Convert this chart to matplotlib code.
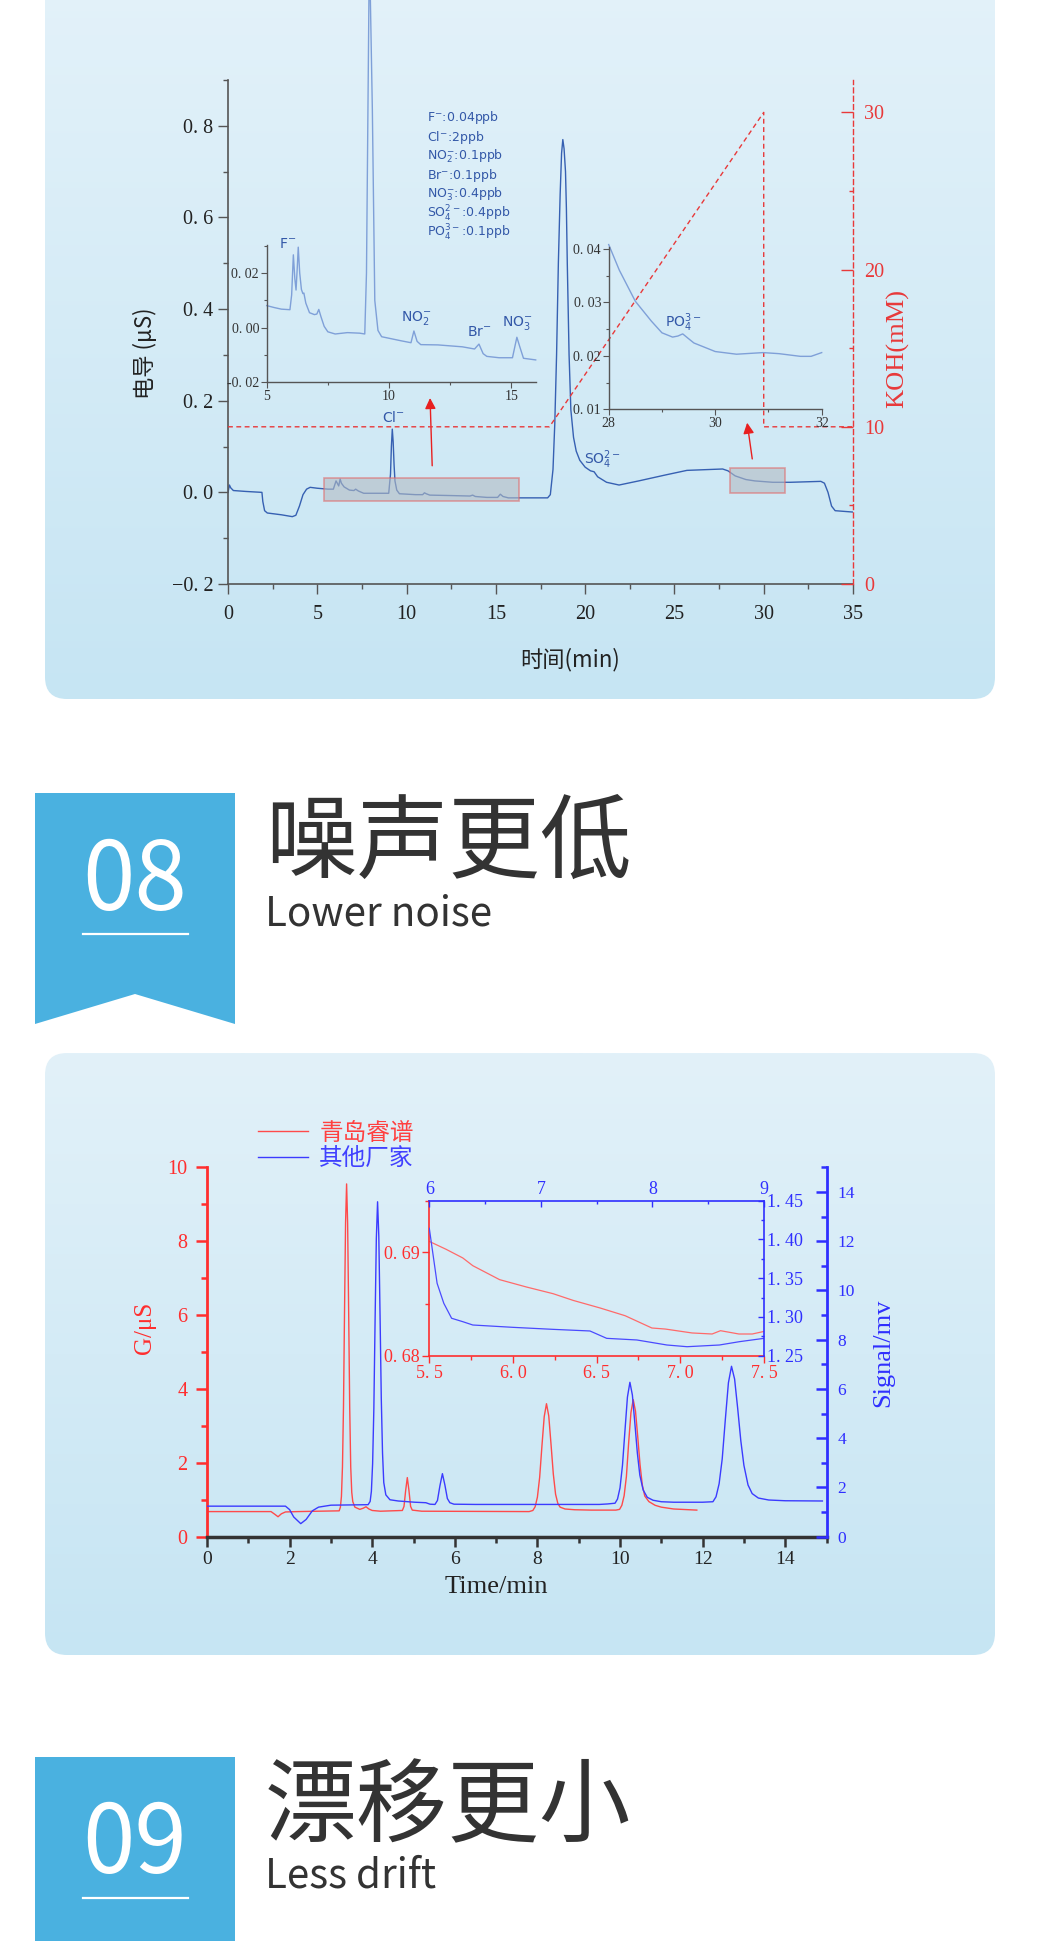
import numpy as np
import matplotlib
matplotlib.use("Agg")
import matplotlib.pyplot as plt
from matplotlib.patches import FancyBboxPatch, Polygon, Rectangle
from matplotlib.colors import LinearSegmentedColormap
from matplotlib.ticker import MultipleLocator, FuncFormatter

W, H = 1040, 1941

# ---------------- data: top chromatogram (uS vs min) ----------------
main_time = [0, 0.08, 0.15, 0.3, 1.0, 1.9, 1.95, 2.05, 2.2, 3.0, 3.6, 3.8, 4.0, 4.2, 4.4, 4.6,
             5.0, 5.6, 5.9, 6.05, 6.12, 6.2, 6.28, 6.35, 6.5, 6.8, 7.05, 7.15, 7.3, 7.6, 8.5,
             9.0, 9.1, 9.15, 9.2, 9.25, 9.3, 9.35, 9.45, 9.6, 10.5, 10.9, 11.0, 11.1, 11.3,
             12.5, 13.55, 13.7, 13.85, 14.5, 15.1, 15.25, 15.4, 15.7, 17.0, 17.9, 18.05, 18.2,
             18.3, 18.4, 18.5, 18.6, 18.68, 18.75, 18.82, 18.9, 18.95, 19.0, 19.1, 19.2,
             19.35, 19.5, 19.7, 20.0, 20.3, 20.5, 20.7, 21.2, 21.9, 23.0, 24.5, 25.7, 27.7,
             28.0, 28.4, 29.0, 29.5, 30.5, 31.5, 33.2, 33.4, 33.6, 33.8, 34.0, 35.0]
main_cond = [0.0, 0.016, 0.01, 0.004, 0.002, 0.0, -0.02, -0.04, -0.045, -0.049, -0.053, -0.05,
             -0.03, -0.005, 0.007, 0.011, 0.009, 0.007, 0.007, 0.025, 0.02, 0.014, 0.029, 0.02,
             0.012, 0.005, 0.004, 0.007, 0.003, -0.002, -0.002, -0.002, 0.04, 0.1, 0.138,
             0.11, 0.06, 0.025, 0.005, -0.003, -0.005, -0.005, -0.001, -0.003, -0.006, -0.007,
             -0.008, -0.006, -0.009, -0.011, -0.011, -0.004, -0.009, -0.012, -0.012, -0.012,
             -0.005, 0.05, 0.15, 0.3, 0.5, 0.65, 0.74, 0.77, 0.75, 0.70, 0.62, 0.5, 0.3, 0.18,
             0.12, 0.09, 0.07, 0.055, 0.047, 0.045, 0.034, 0.022, 0.016, 0.025, 0.038, 0.048,
             0.051, 0.047, 0.036, 0.028, 0.025, 0.022, 0.022, 0.024, 0.02, 0.0, -0.03, -0.04,
             -0.043]

zoom1_time = [5.0, 5.3, 5.6, 5.95, 6.02, 6.09, 6.15, 6.2, 6.25, 6.29, 6.35, 6.42, 6.48, 6.52,
              6.6, 6.75, 6.95, 7.05, 7.13, 7.22, 7.35, 7.5, 7.8, 8.3, 8.8, 9.01, 9.08, 9.2,
              9.32, 9.42, 9.55, 9.7, 10.5, 10.9, 11.02, 11.15, 11.3, 12.0, 13.0, 13.5, 13.68,
              13.85, 14.0, 14.5, 15.05, 15.23, 15.35, 15.5, 16.0]
zoom1_cond = [0.0081, 0.0074, 0.0068, 0.0066, 0.012, 0.0267, 0.018, 0.0138, 0.022, 0.0295,
              0.02, 0.014, 0.0125, 0.0127, 0.009, 0.0055, 0.0048, 0.005, 0.0067, 0.004, 0.0005,
              -0.0015, -0.0023, -0.0018, -0.002, -0.0023, 0.02, 0.14, 0.08, 0.01, -0.001,
              -0.0033, -0.0048, -0.0055, -0.0012, -0.005, -0.0062, -0.0063, -0.007, -0.0078,
              -0.006, -0.0095, -0.0105, -0.011, -0.011, -0.0035, -0.007, -0.0112, -0.0118]

zoom2_time = [28.0, 28.2, 28.5, 28.8, 29.0, 29.2, 29.3, 29.39, 29.5, 29.6, 29.8, 30.0, 30.4,
              30.9, 31.2, 31.6, 31.8, 32.0]
zoom2_cond = [0.0408, 0.036, 0.0302, 0.0265, 0.0243, 0.0235, 0.0237, 0.0241, 0.0232, 0.0224,
              0.0216, 0.0208, 0.0203, 0.0206, 0.0204, 0.0199, 0.0199, 0.0206]

koh_time = [0, 18, 30, 30, 35]
koh_conc = [10, 10, 30, 10, 10]

ion_list = [r"F$^{-}$:0.04ppb", r"Cl$^{-}$:2ppb", r"NO$_2^{-}$:0.1ppb", r"Br$^{-}$:0.1ppb",
            r"NO$_3^{-}$:0.4ppb", r"SO$_4^{2-}$:0.4ppb", r"PO$_4^{3-}$:0.1ppb"]

# ---------------- data: bottom chromatogram ----------------
ruipu_time = [0, 1.55, 1.65, 1.72, 1.8, 1.9, 2.2, 3.2, 3.23, 3.255, 3.28, 3.305, 3.33, 3.355,
              3.38, 3.405, 3.43, 3.455, 3.48, 3.505, 3.53, 3.58, 3.7, 3.78, 3.85, 3.92, 4.0,
              4.2, 4.73, 4.77, 4.81, 4.85, 4.89, 4.93, 4.97, 5.2, 7.8, 7.89, 7.945, 8.0, 8.055,
              8.11, 8.165, 8.22, 8.275, 8.33, 8.385, 8.44, 8.495, 8.55, 8.67, 8.9, 9.3, 9.9,
              9.99, 10.045, 10.1, 10.155, 10.21, 10.265, 10.32, 10.375, 10.43, 10.485, 10.54,
              10.6, 10.7, 10.85, 11.0, 11.3, 11.86]
ruipu_sig = [0.68, 0.68, 0.6, 0.54, 0.62, 0.67, 0.68, 0.7, 0.8, 1.09, 1.89, 3.53, 6.1, 8.49,
             9.55, 8.49, 6.1, 3.53, 1.89, 1.2, 0.95, 0.8, 0.74, 0.77, 0.81, 0.75, 0.71, 0.69,
             0.71, 0.82, 1.25, 1.6, 1.25, 0.82, 0.72, 0.69, 0.68, 0.71, 0.81, 1.07, 1.61,
             2.46, 3.25, 3.6, 3.27, 2.5, 1.7, 1.15, 0.9, 0.8, 0.75, 0.73, 0.72, 0.72, 0.74,
             0.85, 1.11, 1.63, 2.55, 3.36, 3.71, 3.4, 2.7, 1.95, 1.4, 1.1, 0.95, 0.85, 0.8,
             0.75, 0.72]

other_time = [0, 1.9, 2.0, 2.1, 2.27, 2.4, 2.55, 2.7, 3.0, 3.9, 3.95, 3.98, 4.01, 4.04, 4.07,
              4.10, 4.13, 4.16, 4.19, 4.22, 4.25, 4.28, 4.33, 4.43, 4.63, 5.03, 5.3, 5.4,
              5.52, 5.58, 5.64, 5.7, 5.76, 5.82, 5.88, 5.98, 6.5, 9.5, 9.7, 9.88, 9.94, 10.0,
              10.06, 10.12, 10.18, 10.24, 10.30, 10.36, 10.42, 10.48, 10.56, 10.66, 10.8,
              11.0, 11.3, 12.0, 12.25, 12.325, 12.4, 12.475, 12.55, 12.625, 12.7, 12.775,
              12.85, 12.925, 13.0, 13.1, 13.2, 13.35, 13.6, 14.0, 14.9]
other_sig = [1.24, 1.24, 1.1, 0.8, 0.53, 0.7, 1.05, 1.2, 1.28, 1.3, 1.43, 1.84, 2.96, 5.2,
             8.8, 12.1, 13.6, 12.2, 9.0, 5.6, 3.4, 2.2, 1.7, 1.5, 1.45, 1.4, 1.38, 1.32, 1.31,
             1.47, 2.07, 2.56, 2.1, 1.55, 1.38, 1.32, 1.31, 1.31, 1.33, 1.36, 1.53, 1.98, 2.9,
             4.3, 5.67, 6.27, 5.75, 4.6, 3.4, 2.5, 1.9, 1.6, 1.48, 1.42, 1.4, 1.4, 1.42, 1.62,
             2.15, 3.16, 4.75, 6.25, 6.92, 6.4, 5.2, 3.9, 2.9, 2.1, 1.75, 1.57, 1.49, 1.46,
             1.45]

ruipu_zoom_time = [5.5, 5.6, 5.7, 5.76, 5.92, 6.08, 6.24, 6.36, 6.52, 6.67, 6.83, 6.91, 7.07,
                   7.19, 7.24, 7.35, 7.43, 7.5]
ruipu_zoom_sig = [0.69106, 0.6903, 0.68946, 0.68871, 0.68736, 0.68665, 0.686, 0.68535, 0.68462,
                  0.68387, 0.68268, 0.68258, 0.6822, 0.6821, 0.68242, 0.6821, 0.6821, 0.68235]
other_zoom_time = [6.0, 6.07, 6.13, 6.2, 6.3, 6.39, 6.75, 7.11, 7.44, 7.59, 7.86, 8.13, 8.31,
                   8.6, 8.78, 9.0]
other_zoom_sig = [1.4144, 1.3434, 1.3176, 1.2983, 1.2939, 1.2896, 1.2866, 1.284, 1.2819, 1.2724,
                  1.2703, 1.2638, 1.2616, 1.2638, 1.2681, 1.2724]

legend_names = ["青岛睿谱", "其他厂家"]

# ---------------- styling ----------------
plt.rcParams['mathtext.fontset'] = 'dejavusans'
plt.rcParams['font.family'] = ['Liberation Serif', 'DejaVu Serif']
CJK = ['Noto Sans CJK SC', 'DejaVu Sans']
SANS = ['DejaVu Sans']
RED = '#ff2e2e'
BLUE = '#2f2fff'
DRED = '#e8393a'
TRACE = '#3660b2'
LTRACE = '#7fa0d8'
GRAY = '#555555'

fig = plt.figure(figsize=(W / 100, H / 100), dpi=100)
fig.patch.set_facecolor('white')

bg = fig.add_axes([0, 0, 1, 1], zorder=-10)
bg.axis('off')


def panel(y0, y1, c_top, c_bot):
    box = FancyBboxPatch((45, y0), 950, y1 - y0,
                         boxstyle="round,pad=0,rounding_size=22", fc='none', ec='none')
    bg.add_patch(box)
    cmap = LinearSegmentedColormap.from_list('g', [c_top, c_bot])
    grad = np.linspace(0, 1, 256).reshape(-1, 1)
    im = bg.imshow(grad, cmap=cmap, extent=(45, 995, y1, y0), aspect='auto',
                   origin='upper', zorder=0)
    im.set_clip_path(box)


panel(-40, 699, '#e4f2fa', '#c6e5f3')
panel(1053, 1655, '#e2f1f9', '#c6e5f3')

# ribbons
bg.add_patch(Polygon([(35, 793), (235, 793), (235, 1024), (135, 994), (35, 1024)],
                     closed=True, fc='#4ab1e0', ec='none'))
bg.add_patch(Polygon([(35, 1757), (235, 1757), (235, 1960), (35, 1960)],
                     closed=True, fc='#4ab1e0', ec='none'))
bg.plot([83, 188], [934, 934], color='white', lw=1.6)
bg.plot([83, 188], [1898, 1898], color='white', lw=1.6)
bg.text(135, 910, "08", color='white', fontsize=68, fontweight='light', family=CJK,
        ha='center', va='baseline')
bg.text(135, 1873, "09", color='white', fontsize=68, fontweight='light', family=CJK,
        ha='center', va='baseline')
bg.text(265, 871, "噪声更低", color='#333333', fontsize=66, family=CJK, va='baseline')
bg.text(265, 925, "Lower noise", color='#333333', fontsize=29, family=CJK, va='baseline')
bg.text(265, 1835, "漂移更小", color='#333333', fontsize=66, family=CJK, va='baseline')
bg.text(265, 1888, "Less drift", color='#333333', fontsize=29, family=CJK, va='baseline')

# axis titles (pixel positions)
bg.text(145, 353, "电导 (μS)", rotation=90, fontsize=16, family=CJK, color='#222222',
        ha='center', va='center')
bg.text(570, 660, "时间(min)", fontsize=16, family=CJK, color='#222222',
        ha='center', va='center')
bg.text(898, 348, "KOH(mM)", rotation=90, fontsize=19, color=DRED,
        ha='center', va='center')
for i, s in enumerate(ion_list):
    bg.text(427, 118 + i * 19.1, s, fontsize=9, family=SANS, color='#3358a8', va='center')

bg.text(145, 1328, "G/μS", rotation=90, fontsize=18, color=RED, ha='center', va='center')
bg.text(496, 1587, "Time/min", fontsize=19, color='#222222', ha='center', va='center')
bg.text(883, 1353, "Signal/mv", rotation=90, fontsize=19, color=BLUE, ha='center', va='center')

bg.set_xlim(0, W)
bg.set_ylim(H, 0)


def px_axes(l, t, r, b):
    a = fig.add_axes([l / W, 1 - b / H, (r - l) / W, (b - t) / H])
    a.patch.set_visible(False)
    return a


def dec_fmt(nd, minus='−'):
    def f(v, pos):
        s = f"{abs(v):.{nd}f}".replace('.', '. ')
        return (minus if v < -1e-9 else '') + s
    return FuncFormatter(f)


# ---------------- top chart ----------------
ax1 = px_axes(228, 80, 853, 584)
ax1.plot(main_time, main_cond, color=TRACE, lw=1.0)
ax1.set_xlim(0, 35)
ax1.set_ylim(-0.2, 0.9)
for s in ['top', 'right']:
    ax1.spines[s].set_visible(False)
for s in ['left', 'bottom']:
    ax1.spines[s].set_color(GRAY)
    ax1.spines[s].set_linewidth(1.2)
ax1.xaxis.set_major_locator(MultipleLocator(5))
ax1.xaxis.set_minor_locator(MultipleLocator(2.5))
ax1.set_yticks([-0.2, 0.0, 0.2, 0.4, 0.6, 0.8])
ax1.yaxis.set_minor_locator(MultipleLocator(0.1))
ax1.yaxis.set_major_formatter(dec_fmt(1))
ax1.tick_params(which='major', length=7, width=1, color=GRAY, labelsize=14.5,
                labelcolor='#222222')
ax1.tick_params(axis='x', which='major', pad=8)
ax1.tick_params(which='minor', length=3.5, width=1, color=GRAY)

ax1.add_patch(Rectangle((5.4, -0.019), 10.9, 0.051, fc='#b4bcc4', alpha=0.6,
                        ec='#e06a6a', lw=1.2, zorder=3))
ax1.add_patch(Rectangle((28.1, -0.002), 3.1, 0.056, fc='#b4bcc4', alpha=0.6,
                        ec='#e06a6a', lw=1.2, zorder=3))
ax1.annotate("", xy=(11.31, 0.212), xytext=(11.44, 0.052),
             arrowprops=dict(arrowstyle='-|>', color='#e82020', lw=1.0, mutation_scale=16))
ax1.annotate("", xy=(29.05, 0.158), xytext=(29.38, 0.067),
             arrowprops=dict(arrowstyle='-|>', color='#e82020', lw=1.0, mutation_scale=16))
ax1.text(9.24, 0.164, r"Cl$^{-}$", fontsize=10, family=SANS, color='#3358a8',
         ha='center', va='center')
ax1.text(21.0, 0.072, r"SO$_4^{2-}$", fontsize=10, family=SANS, color='#3358a8',
         ha='center', va='center')

axk = ax1.twinx()
axk.patch.set_visible(False)
axk.plot(koh_time, koh_conc, color=DRED, lw=1.0, ls=(0, (3.5, 2.5)))
axk.set_ylim(0, 32.06)
for s in ['top', 'left', 'bottom']:
    axk.spines[s].set_visible(False)
axk.spines['right'].set_color(DRED)
axk.spines['right'].set_linestyle((0, (3.5, 2.5)))
axk.spines['right'].set_linewidth(1.0)
axk.yaxis.set_major_locator(MultipleLocator(10))
axk.yaxis.set_minor_locator(MultipleLocator(5))
axk.tick_params(axis='y', which='major', direction='in', length=9, width=1, color=DRED,
                labelcolor=DRED, labelsize=14.5, pad=8)
axk.tick_params(axis='y', which='minor', direction='in', length=3, width=1, color=DRED)

# inset 1
ai1 = px_axes(266.7, 245, 535.7, 382.3)
ai1.plot(zoom1_time, zoom1_cond, color=LTRACE, lw=1.0, clip_on=False)
ai1.set_xlim(5, 16)
ai1.set_ylim(-0.02, 0.0303)
for s in ['top', 'right']:
    ai1.spines[s].set_visible(False)
for s in ['left', 'bottom']:
    ai1.spines[s].set_color(GRAY)
    ai1.spines[s].set_linewidth(1.0)
ai1.set_xticks([5, 10, 15])
ai1.xaxis.set_minor_locator(MultipleLocator(2.5))
ai1.set_yticks([-0.02, 0.0, 0.02])
ai1.yaxis.set_minor_locator(MultipleLocator(0.01))
ai1.yaxis.set_major_formatter(dec_fmt(2, minus='-'))
ai1.tick_params(which='major', length=4, width=0.8, color=GRAY, labelsize=10,
                labelcolor='#333333', pad=1.5)
ai1.tick_params(which='minor', length=2, width=0.8, color=GRAY)
ai1.text(5.87, 0.0305, r"F$^{-}$", fontsize=10, family=SANS, color='#3358a8', ha='center',
         va='center')
ai1.text(11.12, 0.0036, r"NO$_2^{-}$", fontsize=10, family=SANS, color='#3358a8',
         ha='center', va='center')
ai1.text(13.71, -0.0015, r"Br$^{-}$", fontsize=10, family=SANS, color='#3358a8',
         ha='center', va='center')
ai1.text(15.26, 0.0017, r"NO$_3^{-}$", fontsize=10, family=SANS, color='#3358a8',
         ha='center', va='center')

# inset 2
ai2 = px_axes(608.7, 246.7, 821.7, 409.3)
ai2.plot(zoom2_time, zoom2_cond, color=LTRACE, lw=1.0, clip_on=False)
ai2.set_xlim(28, 32)
ai2.set_ylim(0.01, 0.0404)
for s in ['top', 'right']:
    ai2.spines[s].set_visible(False)
for s in ['left', 'bottom']:
    ai2.spines[s].set_color(GRAY)
    ai2.spines[s].set_linewidth(1.0)
ai2.set_xticks([28, 30, 32])
ai2.xaxis.set_minor_locator(MultipleLocator(1))
ai2.set_yticks([0.01, 0.02, 0.03, 0.04])
ai2.yaxis.set_minor_locator(MultipleLocator(0.005))
ai2.yaxis.set_major_formatter(dec_fmt(2))
ai2.tick_params(which='major', length=4, width=0.8, color=GRAY, labelsize=10,
                labelcolor='#333333', pad=1.5)
ai2.tick_params(which='minor', length=2, width=0.8, color=GRAY)
ai2.text(29.4, 0.0262, r"PO$_4^{3-}$", fontsize=10, family=SANS, color='#3358a8',
         ha='center', va='center')

# ---------------- bottom chart ----------------
ax2 = px_axes(207, 1167.3, 826.5, 1536.7)
l_red, = ax2.plot(ruipu_time, ruipu_sig, color='#ff4a4a', lw=1.0)
ax2.set_xlim(0, 15)
ax2.set_ylim(0, 10)
ax2.spines['top'].set_visible(False)
ax2.spines['right'].set_visible(False)
ax2.spines['left'].set_color(RED)
ax2.spines['left'].set_linewidth(2)
ax2.spines['bottom'].set_color('#333333')
ax2.spines['bottom'].set_linewidth(2.5)
ax2.xaxis.set_major_locator(MultipleLocator(2))
ax2.xaxis.set_minor_locator(MultipleLocator(1))
ax2.yaxis.set_major_locator(MultipleLocator(2))
ax2.yaxis.set_minor_locator(MultipleLocator(1))
ax2.tick_params(axis='x', which='major', length=7, width=1.8, color='#333333', labelsize=14,
                labelcolor='#222222', pad=3)
ax2.tick_params(axis='x', which='minor', length=4, width=1.8, color='#333333')
ax2.tick_params(axis='y', which='major', length=8, width=1.8, color=RED, labelsize=14.5,
                labelcolor=RED, pad=6)
ax2.tick_params(axis='y', which='minor', length=4, width=1.8, color=RED)

ax2b = ax2.twinx()
ax2b.patch.set_visible(False)
l_blue, = ax2b.plot(other_time, other_sig, color='#3b3bff', lw=1.0)
ax2b.set_ylim(0, 15)
for s in ['top', 'left', 'bottom']:
    ax2b.spines[s].set_visible(False)
ax2b.spines['right'].set_color(BLUE)
ax2b.spines['right'].set_linewidth(2)
ax2b.yaxis.set_major_locator(MultipleLocator(2))
ax2b.yaxis.set_minor_locator(MultipleLocator(1))
ax2b.tick_params(axis='y', which='major', direction='in', length=8, width=1.8, color=BLUE,
                 labelsize=12.5, labelcolor=BLUE, pad=8)
ax2b.tick_params(axis='y', which='minor', direction='in', length=4, width=1.8, color=BLUE)

leg = ax2b.legend([l_red, l_blue], legend_names, loc='center left',
                  bbox_to_anchor=(258 / W, 1 - 1146 / H), bbox_transform=fig.transFigure,
                  frameon=False, prop={'family': CJK, 'size': 17}, handlelength=2.1,
                  handletextpad=0.5, labelspacing=0.12, borderpad=0, borderaxespad=0,
                  labelcolor=['#ff4040', '#4040ff'])

# bottom inset
bi = px_axes(429.3, 1200.7, 764, 1355.7)
bi.plot(ruipu_zoom_time, ruipu_zoom_sig, color='#ff6a6a', lw=0.9)
bi.set_xlim(5.5, 7.5)
bi.set_ylim(0.68, 0.695)
bi.spines['top'].set_visible(False)
bi.spines['right'].set_visible(False)
for s in ['left', 'bottom']:
    bi.spines[s].set_color(RED)
    bi.spines[s].set_linewidth(1.2)
bi.set_xticks([5.5, 6.0, 6.5, 7.0, 7.5])
bi.xaxis.set_minor_locator(MultipleLocator(0.25))
bi.set_yticks([0.68, 0.69])
bi.yaxis.set_minor_locator(MultipleLocator(0.005))
bi.xaxis.set_major_formatter(dec_fmt(1))
bi.yaxis.set_major_formatter(dec_fmt(2))
bi.tick_params(which='major', length=5, width=1, color=RED, labelcolor=RED, labelsize=13,
               pad=2)
bi.tick_params(which='minor', length=3, width=1, color=RED)

bi2 = px_axes(429.3, 1200.7, 764, 1355.7)
bi2.plot(other_zoom_time, other_zoom_sig, color='#4a4aff', lw=0.9)
bi2.set_xlim(6, 9)
bi2.set_ylim(1.25, 1.45)
bi2.xaxis.tick_top()
bi2.yaxis.tick_right()
bi2.spines['bottom'].set_visible(False)
bi2.spines['left'].set_visible(False)
for s in ['top', 'right']:
    bi2.spines[s].set_color(BLUE)
    bi2.spines[s].set_linewidth(1.2)
bi2.set_xticks([6, 7, 8, 9])
bi2.xaxis.set_minor_locator(MultipleLocator(0.5))
bi2.set_yticks([1.25, 1.30, 1.35, 1.40, 1.45])
bi2.yaxis.set_minor_locator(MultipleLocator(0.025))
bi2.yaxis.set_major_formatter(dec_fmt(2))
bi2.tick_params(which='major', direction='in', length=4, width=1, color=BLUE,
                labelcolor=BLUE, labelsize=13, pad=2)
bi2.tick_params(which='minor', direction='in', length=2.5, width=1, color=BLUE)

fig.savefig("out.png", dpi=100, facecolor='white')
